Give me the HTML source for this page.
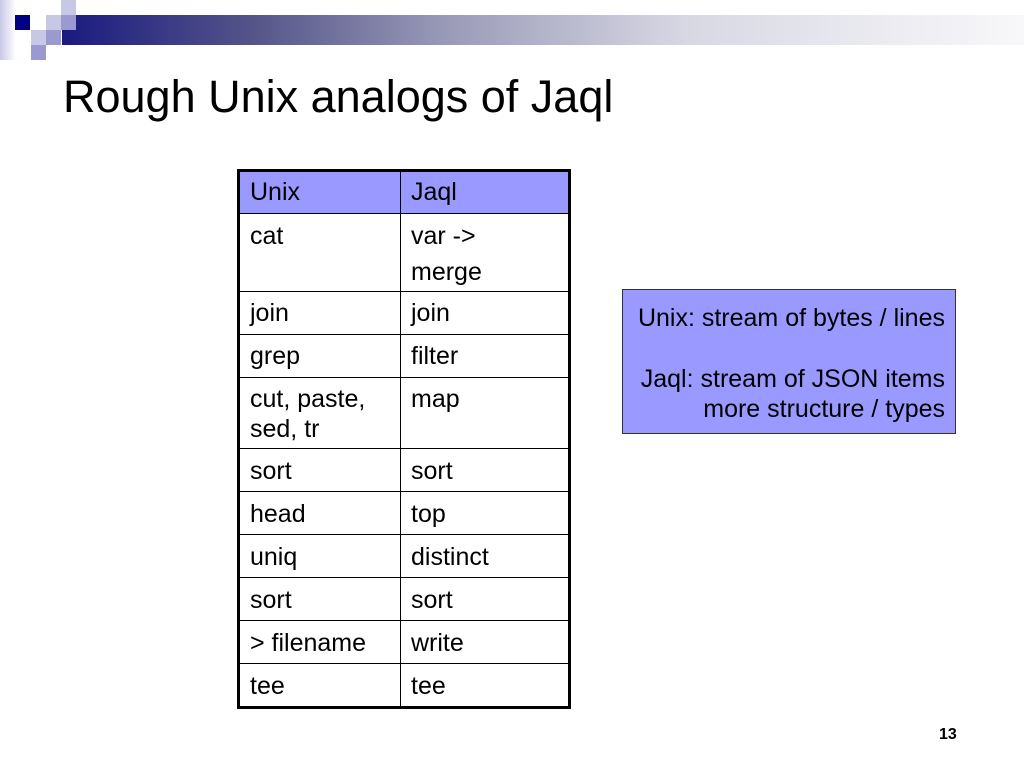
<!DOCTYPE html>
<html><head><meta charset="utf-8"><style>
*{margin:0;padding:0}
body{width:1024px;height:768px;position:relative;background:#fff;font-family:"Liberation Sans",Arial,sans-serif;overflow:hidden;color:#000}
.a{position:absolute}
.t{position:absolute;font-size:25px;line-height:26px;white-space:nowrap}
.h{position:absolute;background:#000}
</style></head><body>
<div class="a" style="left:0;top:0;width:16px;height:60px;background:linear-gradient(90deg,#c8c8e8,#fff)"></div>
<div class="a" style="left:62px;top:15px;width:962px;height:30px;background:linear-gradient(90deg,#1a1a80 0%,#55558a 20%,#9a9ab8 40%,#d8d8e4 65%,#f8f8fa 100%)"></div>
<div class="a" style="left:15px;top:15px;width:15px;height:15px;background:#000080"></div>
<div class="a" style="left:46px;top:15px;width:15px;height:15px;background:#c8c8e4"></div>
<div class="a" style="left:61px;top:0;width:15px;height:15px;background:#c8c8e4"></div>
<div class="a" style="left:61px;top:15px;width:15px;height:15px;background:#9a9ad0"></div>
<div class="a" style="left:31px;top:30px;width:15px;height:15px;background:#c8c8e4"></div>
<div class="a" style="left:46px;top:30px;width:15px;height:15px;background:#9a9ad0"></div>
<div class="a" style="left:31px;top:45px;width:15px;height:15px;background:#9a9ad0"></div>
<div class="a" style="left:63px;top:70px;font-size:45px;line-height:54px;white-space:nowrap">Rough Unix analogs of Jaql</div>

<div class="a" style="left:238px;top:170px;width:332px;height:43px;background:#9999ff"></div>
<div class="a" style="left:237px;top:169px;width:328px;height:534px;border:3px solid #000"></div>
<div class="h" style="left:400px;top:170px;width:1px;height:538px"></div>
<div class="h" style="left:238px;top:213px;width:332px;height:1px"></div>
<div class="h" style="left:238px;top:291px;width:332px;height:1px"></div>
<div class="h" style="left:238px;top:334px;width:332px;height:1px"></div>
<div class="h" style="left:238px;top:377px;width:332px;height:1px"></div>
<div class="h" style="left:238px;top:448px;width:332px;height:1px"></div>
<div class="h" style="left:238px;top:491px;width:332px;height:1px"></div>
<div class="h" style="left:238px;top:534px;width:332px;height:1px"></div>
<div class="h" style="left:238px;top:577px;width:332px;height:1px"></div>
<div class="h" style="left:238px;top:620px;width:332px;height:1px"></div>
<div class="h" style="left:238px;top:663px;width:332px;height:1px"></div>

<div class="t" style="left:250px;top:179px">Unix</div><div class="t" style="left:411px;top:179px">Jaql</div>
<div class="t" style="left:250px;top:223px">cat</div><div class="t" style="left:411px;top:223px">var -&gt;</div>
<div class="t" style="left:411px;top:259px">merge</div>
<div class="t" style="left:250px;top:300px">join</div><div class="t" style="left:411px;top:300px">join</div>
<div class="t" style="left:250px;top:343px">grep</div><div class="t" style="left:411px;top:343px">filter</div>
<div class="t" style="left:250px;top:386px">cut, paste,</div><div class="t" style="left:411px;top:386px">map</div>
<div class="t" style="left:250px;top:416px">sed, tr</div>
<div class="t" style="left:250px;top:458px">sort</div><div class="t" style="left:411px;top:458px">sort</div>
<div class="t" style="left:250px;top:501px">head</div><div class="t" style="left:411px;top:501px">top</div>
<div class="t" style="left:250px;top:544px">uniq</div><div class="t" style="left:411px;top:544px">distinct</div>
<div class="t" style="left:250px;top:587px">sort</div><div class="t" style="left:411px;top:587px">sort</div>
<div class="t" style="left:250px;top:630px">&gt; filename</div><div class="t" style="left:411px;top:630px">write</div>
<div class="t" style="left:250px;top:673px">tee</div><div class="t" style="left:411px;top:673px">tee</div>

<div class="a" style="left:622px;top:289px;width:332px;height:143px;background:#9999ff;border:1px solid #333"></div>
<div class="t" style="right:79px;top:305px;text-align:right">Unix: stream of bytes / lines</div>
<div class="t" style="right:79px;top:366px;text-align:right">Jaql: stream of JSON items</div>
<div class="t" style="right:79px;top:396px;text-align:right">more structure / types</div>

<div class="a" style="left:939px;top:726px;font-size:16px;line-height:18px;font-weight:bold">13</div>
</body></html>
